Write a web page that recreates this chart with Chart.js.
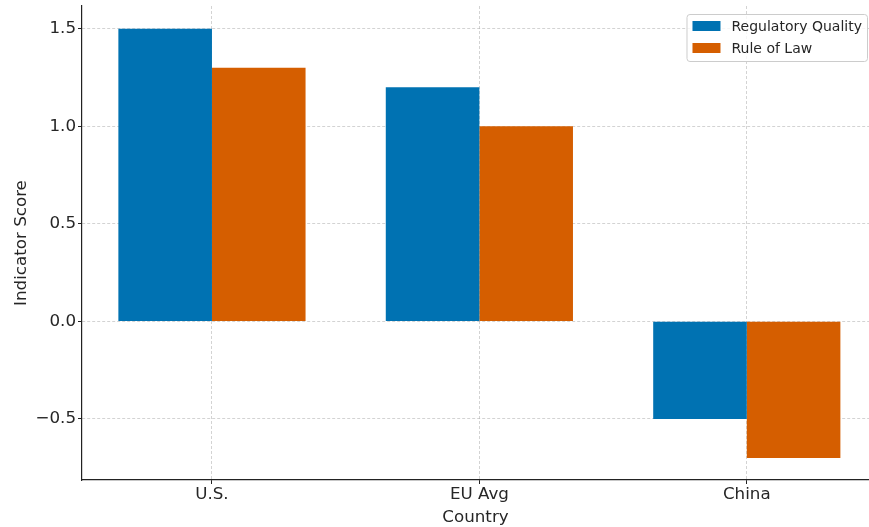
<!DOCTYPE html>
<html>
<head>
<meta charset="utf-8">
<script src="https://cdn.jsdelivr.net/npm/chart.js@4/dist/chart.umd.min.js"></script>
<style>
  body { margin: 0; background: #fff; }
  #wrap { width: 869px; height: 527px; }
</style>
</head>
<body>
<div id="wrap"><canvas id="myChart" width="869" height="527"></canvas></div>
<script>
var countries = ['U.S.', 'EU Avg', 'China'];
var regQuality = [1.5, 1.2, -0.5];
var ruleOfLaw = [1.3, 1.0, -0.7];
var yTicks = [-0.5, 0, 0.5, 1.0, 1.5];

var fontFam = "'DejaVu Sans', sans-serif";
var textColor = '#262626';

// legend drawn inside the plot, top right, matplotlib style
var boxLegend = {
  id: 'boxLegend',
  afterDraw: function (chart) {
    var ctx = chart.ctx;
    var area = chart.chartArea;
    var sets = chart.data.datasets;
    ctx.save();
    ctx.font = '14px ' + fontFam;
    var maxW = 0;
    sets.forEach(function (ds) { maxW = Math.max(maxW, ctx.measureText(ds.label).width); });
    var w = 6 + 28 + 11 + maxW + 6;
    var h = 47;
    var x = area.right - 1 - w;
    var y = area.top + 8;
    ctx.beginPath();
    ctx.roundRect(x + 0.5, y + 0.5, w - 1, h, 3);
    ctx.fillStyle = 'rgba(255,255,255,0.8)';
    ctx.fill();
    ctx.strokeStyle = '#cccccc';
    ctx.lineWidth = 1;
    ctx.stroke();
    sets.forEach(function (ds, i) {
      var cy = y + 12 + i * 22;
      ctx.fillStyle = ds.backgroundColor;
      ctx.fillRect(x + 6, cy - 5, 28, 10);
      ctx.fillStyle = textColor;
      ctx.textBaseline = 'middle';
      ctx.fillText(ds.label, x + 6 + 28 + 11, cy + 1);
    });
    ctx.restore();
  }
};

var ctx = document.getElementById('myChart').getContext('2d');
var myChart = new Chart(ctx, {
  type: 'bar',
  data: {
    datasets: [{
      label: 'Regulatory Quality',
      data: regQuality.map(function (v, i) { return { x: i, y: v }; }),
      backgroundColor: '#0072B2'
    }, {
      label: 'Rule of Law',
      data: ruleOfLaw.map(function (v, i) { return { x: i, y: v }; }),
      backgroundColor: '#D55E00'
    }]
  },
  options: {
    responsive: false,
    animation: false,
    categoryPercentage: 0.7,
    barPercentage: 1.0,
    layout: { padding: { left: 0, top: 6, right: 0, bottom: 0 } },
    plugins: {
      legend: { display: false },
      tooltip: { enabled: false }
    },
    scales: {
      x: {
        type: 'linear',
        min: -0.486,
        max: 2.457,
        offset: false,
        z: 1,
        afterBuildTicks: function (scale) {
          scale.ticks = countries.map(function (c, i) { return { value: i }; });
        },
        afterFit: function (scale) {
          scale.height = 47;
          scale.paddingLeft = 0;
          scale.paddingRight = 0;
        },
        ticks: {
          color: textColor,
          font: { family: fontFam, size: 16.7 },
          padding: 1,
          maxRotation: 0,
          callback: function (v) { return countries[v]; }
        },
        grid: {
          offset: false,
          color: 'rgba(176,176,176,0.7)',
          lineWidth: 0.8,
          tickLength: 4,
          tickColor: '#222',
          tickWidth: 1,
          tickBorderDash: []
        },
        border: { color: '#222', width: 1.2, dash: [3, 2] },
        title: {
          display: true,
          text: 'Country',
          color: textColor,
          font: { family: fontFam, size: 16.7 },
          padding: { top: 0, bottom: -1 }
        }
      },
      y: {
        min: -0.813,
        max: 1.616,
        z: 1,
        afterBuildTicks: function (scale) {
          scale.ticks = yTicks.map(function (v) { return { value: v }; });
        },
        afterFit: function (scale) {
          scale.width = 82;
          scale.paddingTop = 0;
          scale.paddingBottom = 0;
        },
        ticks: {
          color: textColor,
          font: { family: fontFam, size: 16.7 },
          padding: 2,
          callback: function (v) { return v.toFixed(1).replace('-', '\u2212'); }
        },
        grid: {
          color: 'rgba(176,176,176,0.7)',
          lineWidth: 0.8,
          tickLength: 4,
          tickColor: '#222',
          tickWidth: 1,
          tickBorderDash: []
        },
        border: { color: '#222', width: 1.2, dash: [3, 2] },
        title: {
          display: true,
          text: 'Indicator Score',
          color: textColor,
          font: { family: fontFam, size: 16.7 },
          padding: { top: 12, bottom: 0 }
        }
      }
    }
  },
  plugins: [boxLegend]
});
</script>
</body>
</html>
